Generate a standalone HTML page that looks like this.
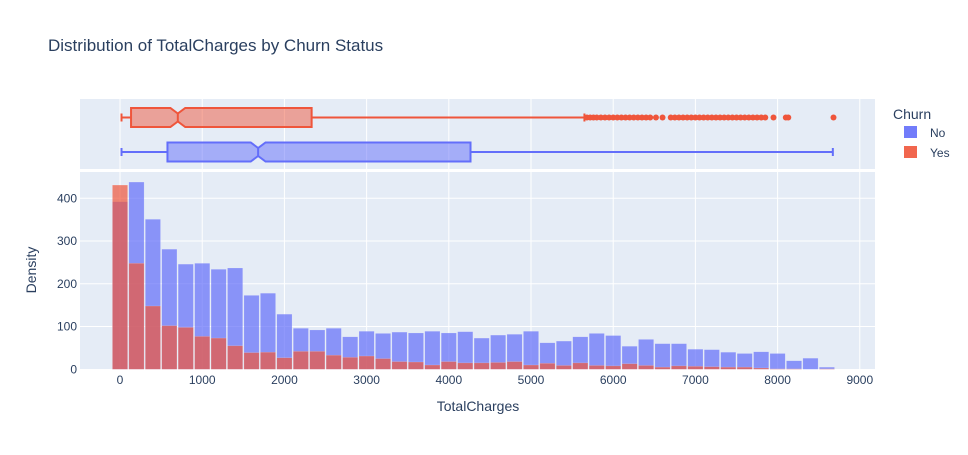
<!DOCTYPE html>
<html><head><meta charset="utf-8"><style>
body{margin:0;background:#fff;font-family:"Liberation Sans",Arial,sans-serif;}
svg text{font-family:"Liberation Sans",Arial,sans-serif;fill:#2a3f5f;}
</style></head><body>
<svg id="chart" width="968" height="450" xmlns="http://www.w3.org/2000/svg">
<rect width="968" height="450" fill="#fff"/>
<text x="48" y="51" font-size="17">Distribution of TotalCharges by Churn Status</text>
<rect x="80" y="99" width="795" height="70" fill="#e5ecf6"/>
<rect x="80" y="172" width="795" height="197" fill="#e5ecf6"/>
<g id="grid"></g>
<g id="bars"></g>
<g id="boxes"></g>
<g id="axes"></g>
<text x="0" y="0" font-size="14" transform="translate(36,270) rotate(-90)" text-anchor="middle">Density</text>
<text x="478" y="411" font-size="14" text-anchor="middle">TotalCharges</text>
<g>
<text x="893" y="119" font-size="14">Churn</text>
<g><rect x="904" y="126" width="13" height="12" fill="#636efa" opacity="0.9"/><text x="930" y="137" font-size="12">No</text></g>
<g><rect x="904" y="146" width="13" height="12" fill="#EF553B" opacity="0.9"/><text x="930" y="157" font-size="12">Yes</text></g>
</g>
</svg>
<script>
const binStarts=[-100,100,300,500,700,900,1100,1300,1500,1700,1900,2100,2300,2500,2700,2900,3100,3300,3500,3700,3900,4100,4300,4500,4700,4900,5100,5300,5500,5700,5900,6100,6300,6500,6700,6900,7100,7300,7500,7700,7900,8100,8300,8500];
const noCounts=[392,438,351,281,246,248,234,237,173,178,129,96,92,96,76,89,84,87,85,89,85,88,73,80,82,89,62,66,76,84,79,54,70,60,60,47,46,40,37,41,37,20,26,5];
const yesCounts=[431,248,148,102,98,77,73,55,39,40,27,42,42,33,28,31,25,18,17,10,18,15,15,16,18,10,14,9,15,9,8,13,9,5,8,7,6,5,5,3,1,1,0,1];
const xTicks=[0,1000,2000,3000,4000,5000,6000,7000,8000,9000];
const yTicks=[0,100,200,300,400];
const boxNo=[18,577,1680,4264,8672];
const boxYes=[18,134,703,2331,5650];
const yesOutliers=[5680,5720,5760,5800,5850,5900,5950,6000,6050,6100,6150,6200,6250,6300,6350,6400,6450,6520,6600,6700,6750,6800,6850,6900,6950,7000,7050,7100,7150,7200,7250,7300,7350,7400,7450,7500,7550,7600,7650,7700,7750,7800,7850,7950,8100,8130,8680];
const binW=200;
const NS='http://www.w3.org/2000/svg';
const X0=80,X1=875,XMIN=-487,XMAX=9185;
const x=v=>X0+(v-XMIN)/(XMAX-XMIN)*(X1-X0);
const y=v=>369.3-v*(369.3-198.3)/400;
function mk(tag,attrs,parent){const e=document.createElementNS(NS,tag);for(const k in attrs)e.setAttribute(k,attrs[k]);parent.appendChild(e);return e;}
const grid=document.getElementById('grid'),bars=document.getElementById('bars'),boxes=document.getElementById('boxes'),axes=document.getElementById('axes');
xTicks.forEach(t=>{
  const l1=mk('line',{x1:x(t),x2:x(t),y1:99,y2:169,stroke:'#fff','stroke-width':1},grid);
  
  
  const l2=mk('line',{x1:x(t),x2:x(t),y1:172,y2:369,stroke:'#fff','stroke-width':1},grid);
  
  
  const tx=mk('text',{x:x(t),y:384,'font-size':12,'text-anchor':'middle'},axes);tx.textContent=t;
  
  
});
yTicks.forEach(t=>{
  if(t>0){const l=mk('line',{x1:X0,x2:X1,y1:y(t),y2:y(t),stroke:'#fff','stroke-width':1},grid);
  
  }
  const tx=mk('text',{x:77,y:y(t)+4,'font-size':12,'text-anchor':'end'},axes);tx.textContent=t;
  
  
});
function drawBars(counts,color,name){
  counts.forEach((c,i)=>{
    const a=x(binStarts[i]),b=x(binStarts[i]+binW);
    const r=mk('rect',{x:a+0.6,y:y(c),width:b-a-1.2,height:y(0)-y(c),fill:color,'fill-opacity':0.7,stroke:'#fff','stroke-opacity':0.3,'stroke-width':0.5},bars);
    
    
  });
}
drawBars(noCounts,'#636efa','bar-no');
drawBars(yesCounts,'#EF553B','bar-yes');
function drawBox(s,cy,color,fill,name){
  const h=9.5,n=4,nw=60;
  const g=mk('g',{},boxes);
  
  
  mk('line',{x1:x(s[0]),x2:x(s[1]),y1:cy,y2:cy,stroke:color,'stroke-width':2},g);
  mk('line',{x1:x(s[3]),x2:x(s[4]),y1:cy,y2:cy,stroke:color,'stroke-width':2},g);
  mk('line',{x1:x(s[0]),x2:x(s[0]),y1:cy-4,y2:cy+4,stroke:color,'stroke-width':2},g);
  mk('line',{x1:x(s[4]),x2:x(s[4]),y1:cy-4,y2:cy+4,stroke:color,'stroke-width':2},g);
  const q1=x(s[1]),m=x(s[2]),q3=x(s[3]),ml=x(s[2]-nw*1.5),mr=x(s[2]+nw*1.5);
  const pts=[[q1,cy-h],[ml,cy-h],[m,cy-n],[mr,cy-h],[q3,cy-h],[q3,cy+h],[mr,cy+h],[m,cy+n],[ml,cy+h],[q1,cy+h]];
  mk('polygon',{points:pts.map(p=>p.join(',')).join(' '),fill:fill,'fill-opacity':0.5,stroke:color,'stroke-width':2},g);
  mk('line',{x1:m,x2:m,y1:cy-n,y2:cy+n,stroke:color,'stroke-width':2},g);
}
drawBox(boxYes,117.5,'#EF553B','#EF553B','box-yes');
drawBox(boxNo,152,'#636efa','#636efa','box-no');
yesOutliers.forEach(v=>{
  const c=mk('circle',{cx:x(v),cy:117.5,r:3,fill:'#EF553B'},boxes);
  
  
});
</script>
</body></html>
